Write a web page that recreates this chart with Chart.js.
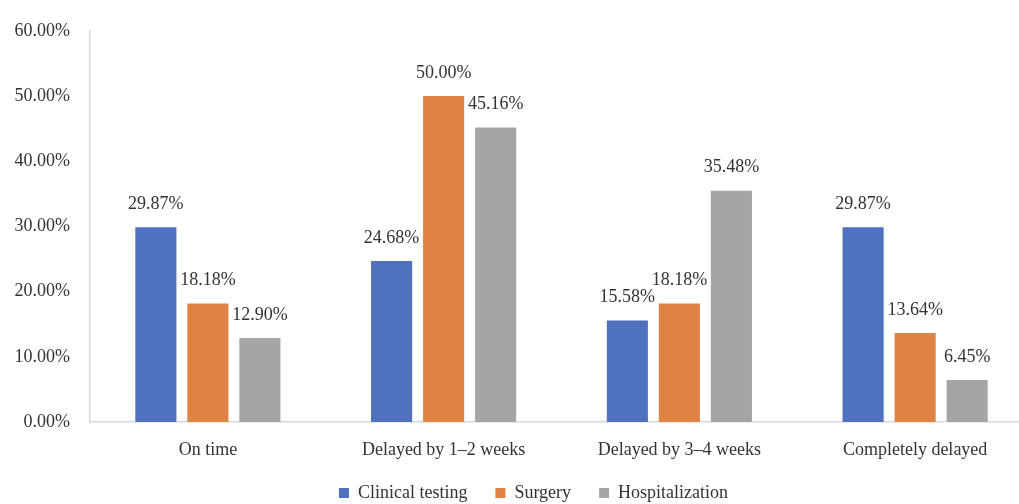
<!DOCTYPE html>
<html>
<head>
<meta charset="utf-8">
<script src="https://cdn.jsdelivr.net/npm/chart.js@4"></script>
<style>
  html, body { margin: 0; padding: 0; background: #fff; overflow: hidden; }
  #wrap { width: 1100px; height: 504px; }
</style>
</head>
<body>
<div id="wrap"><canvas id="delay-chart"></canvas></div>
<script>
// DATA //

const categories = ['On time', 'Delayed by 1\u20132 weeks', 'Delayed by 3\u20134 weeks', 'Completely delayed'];
const clinicalTesting = [29.87, 24.68, 15.58, 29.87];
const surgery = [18.18, 50.00, 18.18, 13.64];
const hospitalization = [12.90, 45.16, 35.48, 6.45];
const yTicks = [0, 10, 20, 30, 40, 50, 60];

const fontFamily = '"Liberation Serif", "Times New Roman", serif';
const fontSize = 18;
const textColor = '#333333';

// VALUE LABELS ABOVE BARS //

const valueLabels = {
    id: 'valueLabels',
    afterDatasetsDraw(chart) {
        const ctx = chart.ctx;
        ctx.save();
        ctx.font = fontSize + 'px ' + fontFamily;
        ctx.fillStyle = textColor;
        ctx.textAlign = 'center';
        ctx.textBaseline = 'middle';
        chart.data.datasets.forEach((ds, i) => {
            chart.getDatasetMeta(i).data.forEach((bar, j) => {
                ctx.fillText(ds.data[j].toFixed(2) + '%', bar.x, bar.y - 23);
            });
        });
        ctx.restore();
    }
};

// nudge the legend so it sits where the original one does
const legendShift = {
    id: 'legendShift',
    afterLayout(chart) {
        const lg = chart.legend;
        lg.left += 17;
        lg.right += 17;
        lg.top -= 3;
        lg.bottom -= 3;
    }
};

const delayChart = new Chart(document.getElementById('delay-chart'), {
    type: 'bar',
    data: {
        labels: categories,
        datasets: [
            { label: 'Clinical testing', data: clinicalTesting, backgroundColor: '#4F71BE' },
            { label: 'Surgery', data: surgery, backgroundColor: '#DE8344' },
            { label: 'Hospitalization', data: hospitalization, backgroundColor: '#A5A5A5' }
        ]
    },
    options: {
        responsive: true,
        maintainAspectRatio: false,
        animation: false,
        categoryPercentage: 0.662,
        barPercentage: 0.79,
        layout: {
            padding: { top: 25, right: 67, bottom: -11, left: 0 }
        },
        scales: {
            x: {
                afterFit(scale) { scale.height = 37; },
                grid: { display: false, drawTicks: false },
                border: { display: true, color: '#D9D9D9', width: 1.5 },
                ticks: {
                    padding: 17,
                    color: textColor,
                    font: { family: fontFamily, size: fontSize }
                }
            },
            y: {
                min: 0,
                max: 60,
                afterFit(scale) { scale.width = 90; },
                afterBuildTicks(scale) { scale.ticks = yTicks.map(v => ({ value: v })); },
                grid: { display: false, drawTicks: false },
                border: { display: true, color: '#D9D9D9', width: 1.5 },
                ticks: {
                    padding: 20,
                    color: textColor,
                    font: { family: fontFamily, size: fontSize },
                    callback: v => v.toFixed(2) + '%'
                }
            }
        },
        plugins: {
            legend: {
                position: 'bottom',
                labels: {
                    boxWidth: 10,
                    boxHeight: 10,
                    padding: 28,
                    color: textColor,
                    font: { family: fontFamily, size: fontSize }
                }
            },
            tooltip: { enabled: false }
        }
    },
    plugins: [valueLabels, legendShift]
});
</script>
</body>
</html>
